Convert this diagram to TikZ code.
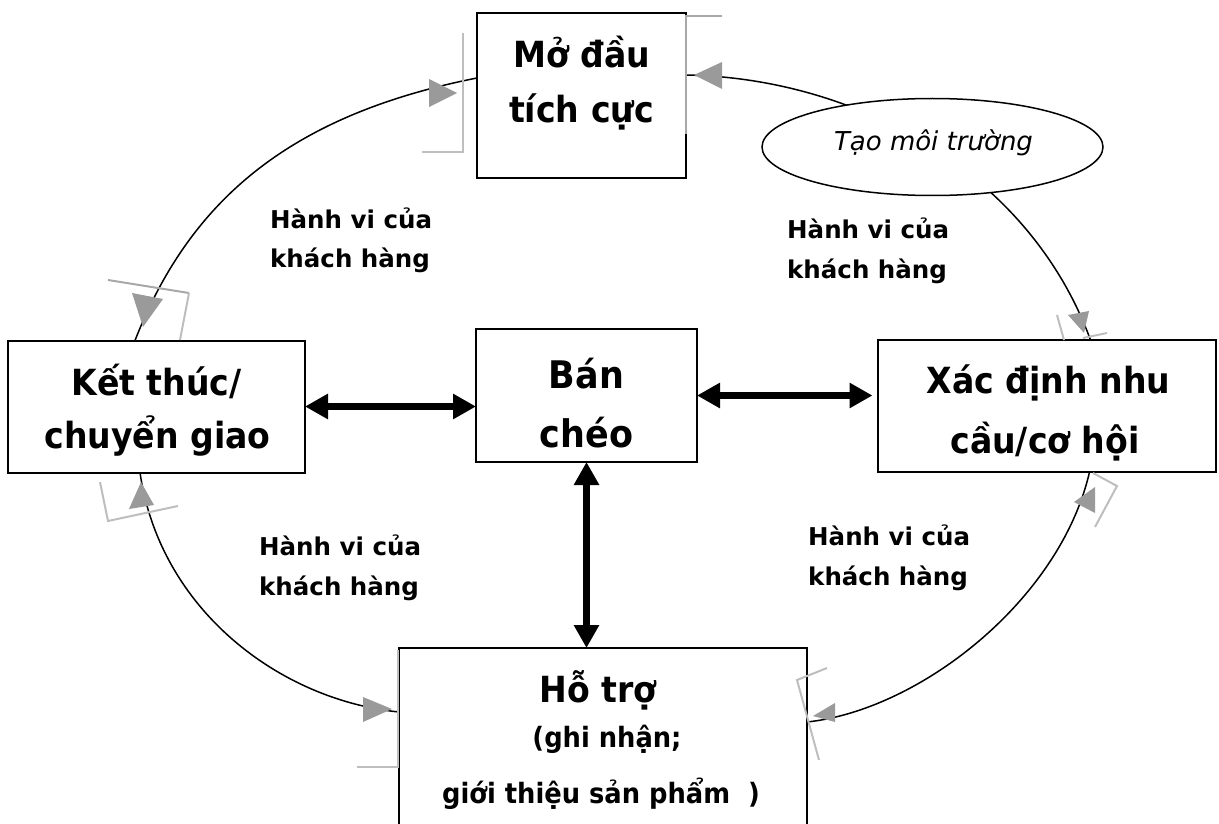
\documentclass[tikz,border=0pt]{standalone}
\usepackage{fontspec}
\setmainfont{DejaVu Sans}
\newfontfamily\stagefont[FakeStretch=0.92]{DejaVu Sans}
\usetikzlibrary{arrows.meta,shapes.geometric}

\definecolor{tipgray}{HTML}{9A9A9A}
\definecolor{rimgray}{HTML}{BEBEBE}
\definecolor{rimdark}{HTML}{A8A8A8}

\begin{document}
\begin{tikzpicture}[x=1pt,y=-1pt,
  box/.style={draw, line width=2pt, fill=white, inner sep=0pt, outer sep=0pt},
  boxtxt/.style={anchor=base, inner sep=0pt, font=\stagefont\fontsize{36}{36}\selectfont\bfseries},
  bigtxt/.style={boxtxt, font=\stagefont\fontsize{38}{38}\selectfont\bfseries},
  subtxt/.style={boxtxt, font=\stagefont\fontsize{28}{28}\selectfont\bfseries},
  lbl/.style={anchor=base west, inner sep=0pt, font=\fontsize{24.5}{24.5}\selectfont\bfseries},
  loop/.style={line width=1.5pt},
  dbl/.style={line width=7pt, >={Triangle[length=23pt,width=24pt]}, <->},
  tip/.style={fill=tipgray},
  rim/.style={draw=rimgray, line width=2pt},
  rimd/.style={draw=rimdark, line width=2pt}
]
\path[use as bounding box, clip] (0,0) rectangle (1219,824);

% stage boxes
\node[box, minimum width=209pt, minimum height=165pt] (open) at (581.5,95.5) {};
\node[box, minimum width=297pt, minimum height=132pt] (close) at (156.5,406.5) {};
\node[box, minimum width=221pt, minimum height=133pt] (cross) at (586.5,395.5) {};
\node[box, minimum width=338pt, minimum height=132pt] (needs) at (1046.5,406) {};
\node[box, minimum width=408pt, minimum height=197pt] (support) at (603,746.5) {};

% customer-behaviour loop between the stages
\draw[loop] ([xshift=127pt]close.north west) .. controls (190,200) and (290,115) .. ([yshift=-65pt]open.north west);
\draw[loop] ([yshift=-62pt]open.north east) .. controls (860,78) and (1030,175) .. ([xshift=213pt]needs.north west);
\draw[loop] ([xshift=212pt]needs.south west) .. controls (1060,600) and (920,710) .. ([yshift=-74pt]support.north east);
\draw[loop] ([xshift=132pt]close.south west) .. controls (160,610) and (280,700) .. ([yshift=-64pt]support.north west);

% grey arrowheads of the loop
\fill[tip] (429,79) -- (457,93) -- (429,107) -- cycle;
\fill[tip] (132,293) -- (163,299) -- (143,327) -- cycle;
\fill[tip] (694,75) -- (722,62) -- (722,89) -- cycle;
\fill[tip] (1068,315) -- (1089,311) -- (1084,333) -- cycle;
\fill[tip] (1074,502) -- (1095,487) -- (1095,513) -- cycle;
\fill[tip] (813,716) -- (835,703) -- (835,722) -- cycle;
\fill[tip] (363,697) -- (392,709) -- (363,722) -- cycle;
\fill[tip] (141,482) -- (154,505) -- (129,509) -- cycle;

% grey corner rims
\draw[rim] (422,152) -- (463,152) -- (463,33);
\draw[rimd] (686,134) -- (686,16) -- (722,16);
\draw[rimd] (108,280) -- (189,293);
\draw[rim] (189,293) -- (180,340);
\draw[rim] (100,482) -- (108,521) -- (178,506);
\draw[rim] (1057,315) -- (1064,340);
\draw[rim] (1083,338) -- (1107,333);
\draw[rim] (1093,473) -- (1117,486) -- (1095,527);
\draw[rim] (827,668) -- (797,680) -- (819,760);
\draw[rim] (357,767) -- (398,767) -- (398,650);

% environment bubble
\node[draw, ellipse, fill=white, line width=1.5pt, minimum width=341pt, minimum height=97pt, inner sep=0pt] (env) at (932.5,147) {};
\node[anchor=base, inner sep=0pt, font=\fontsize{26}{26}\selectfont\itshape] (env-t) at (933.5,151) {Tạo môi trường};

% cross-selling links
\draw[dbl] (close.east) -- (close.east -| cross.west);
\draw[dbl] (cross.east) -- ([xshift=-5pt]cross.east -| needs.west);
\draw[dbl] (cross.south) -- (cross.south |- support.north);

% box texts
\node[boxtxt] (open-1) at (581.5,68) {Mở đầu};
\node[boxtxt] (open-2) at (581.5,123) {tích cực};
\node[boxtxt] (close-1) at (156.5,395) {Kết thúc/};
\node[boxtxt] (close-2) at (157.5,448) {chuyển giao};
\node[bigtxt] (cross-1) at (586.5,388) {Bán};
\node[bigtxt] (cross-2) at (586.5,447) {chéo};
\node[boxtxt] (needs-1) at (1048.5,393) {Xác định nhu};
\node[boxtxt] (needs-2) at (1045,453) {cầu/cơ hội};
\node[boxtxt] (support-1) at (598,702) {Hỗ trợ};
\node[subtxt] (support-2) at (607,747) {(ghi nhận;};
\node[subtxt] (support-3) at (601,803) {giới thiệu sản phẩm \ )};

% loop labels
\node[lbl] (tl-1) at (270,228) {Hành vi của};
\node[lbl] (tl-2) at (270,267) {khách hàng};
\node[lbl] (tr-1) at (787,238) {Hành vi của};
\node[lbl] (tr-2) at (787,278) {khách hàng};
\node[lbl] (bl-1) at (259,555) {Hành vi của};
\node[lbl] (bl-2) at (259,595) {khách hàng};
\node[lbl] (br-1) at (808,545) {Hành vi của};
\node[lbl] (br-2) at (808,585) {khách hàng};
\end{tikzpicture}
\end{document}
